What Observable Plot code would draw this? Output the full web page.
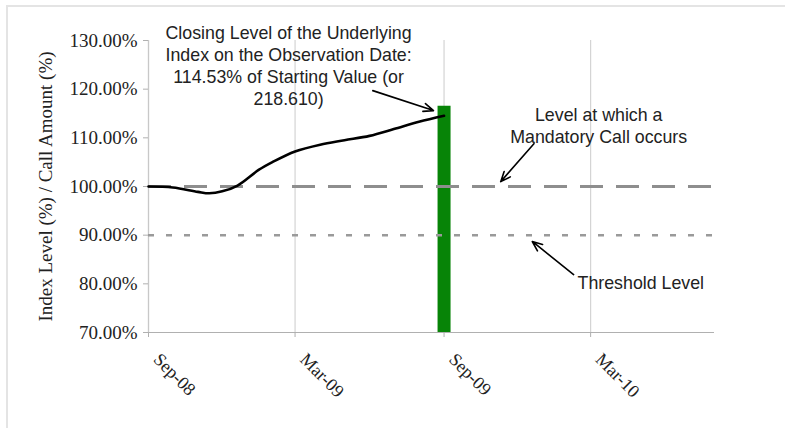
<!DOCTYPE html>
<html>
<head>
<meta charset="utf-8">
<script src="https://cdn.jsdelivr.net/npm/d3@7"></script>
<script src="https://cdn.jsdelivr.net/npm/@observablehq/plot@0.6"></script>
<style>
  html, body { margin: 0; padding: 0; background: white; }
  #wrap { position: relative; width: 785px; height: 428px; overflow: hidden; }
  #frame { position: absolute; left: 6px; top: 5px; right: -4px; bottom: -4px;
           border-top: 2px solid #e4e4e4; border-left: 2px solid #e4e4e4; pointer-events: none; }
</style>
</head>
<body>
<div id="wrap"><div id="chart"></div><div id="frame"></div></div>
<script>
// ---- data ----
const indexDates  = ["2008-09-01","2008-10-01","2008-11-01","2008-11-15","2008-12-01","2008-12-20","2009-01-15","2009-02-01","2009-03-01","2009-04-01","2009-05-01","2009-06-01","2009-07-01","2009-08-01","2009-09-01"];
const indexValues = [100.0, 99.8, 98.9, 98.6, 99.0, 100.2, 103.4, 105.0, 107.2, 108.6, 109.5, 110.4, 111.8, 113.3, 114.53];

const callDates  = ["2009-09-01"];
const callValues = [116.5];

const callLevel = 100;      // Mandatory call level
const thresholdLevel = 90;  // Threshold level

const xTickDates  = ["2008-09-01","2009-03-01","2009-09-01","2010-03-01"];
const xTickLabels = ["Sep-08","Mar-09","Sep-09","Mar-10"];
const yTicks = [70, 80, 90, 100, 110, 120, 130];
const xDomain = ["2008-09-01","2010-08-01"];
const yDomain = [70, 130];

const yLabel = "Index Level (%) / Call Amount (%)";

const annoTexts = [
  "Closing Level of the Underlying\nIndex on the Observation Date:\n114.53% of Starting Value (or\n218.610)",
  "Level at which a\nMandatory Call occurs",
  "Threshold Level"
];
const annoDates  = ["2009-02-21", "2010-03-11", "2010-05-02"];
const annoValues = [125.0, 112.6, 80.3];

const arrowFromDates  = ["2009-06-05", "2009-12-21", "2010-02-08"];
const arrowFromValues = [119.7, 108.8, 81.9];
const arrowToDates    = ["2009-08-19", "2009-11-10", "2009-12-19"];
const arrowToValues   = [115.6, 101.0, 88.7];

// ---- tables ----
const parse = d => new Date(d + "T00:00:00Z");
const indexData = indexDates.map((d, i) => ({date: parse(d), value: indexValues[i]}));
const callData = callDates.map((d, i) => ({date: parse(d), value: callValues[i]}));
const tickDates = xTickDates.map(parse);
const tickLabelOf = new Map(xTickDates.map((d, i) => [parse(d).getTime(), xTickLabels[i]]));
const annoData = annoTexts.map((t, i) => ({text: t, date: parse(annoDates[i]), value: annoValues[i]}));
const arrowData = arrowFromDates.map((d, i) => ({
  x1: parse(d), y1: arrowFromValues[i], x2: parse(arrowToDates[i]), y2: arrowToValues[i]
}));

const chart = Plot.plot({
  width: 785,
  height: 428,
  marginLeft: 148,
  marginRight: 71,
  marginTop: 40,
  marginBottom: 96,
  x: {type: "utc", domain: xDomain.map(parse)},
  y: {domain: yDomain},
  style: {fontFamily: "'Liberation Serif', 'Times New Roman', serif", background: "white", color: "black"},
  marks: [
    Plot.gridX(tickDates, {stroke: "#d4d4d4", strokeOpacity: 1, strokeWidth: 1.2}),
    Plot.ruleY([yDomain[0]], {stroke: "#b0b0b0", strokeWidth: 1.2}),
    Plot.ruleX([parse(xDomain[0])], {stroke: "#c8c8c8", strokeWidth: 1.2}),
    Plot.axisY({
      ticks: yTicks,
      tickFormat: d => d.toFixed(2) + "%",
      tickSize: 5,
      tickPadding: 6,
      fontSize: 19,
      stroke: "#b0b0b0",
      fill: "#222",
      label: yLabel,
      labelAnchor: "center",
      labelArrow: "none",
      labelOffset: 110
    }),
    // tick marks only
    Plot.axisX({
      ticks: tickDates,
      tickFormat: () => "",
      tickSize: 5,
      stroke: "#b0b0b0",
      label: null
    }),
    // rotated tick labels
    Plot.axisX({
      ticks: tickDates,
      tickFormat: d => tickLabelOf.get(d.getTime()),
      tickRotate: 45,
      tickSize: 0,
      tickPadding: 24,
      dx: 8,
      fontSize: 18,
      fill: "#222",
      label: null
    }),
    Plot.ruleX(callData, {x: "date", y1: () => yDomain[0], y2: "value", stroke: "#078407", strokeWidth: 13}),
    Plot.ruleY([callLevel], {stroke: "#8e8e8e", strokeWidth: 3, strokeDasharray: "23,13"}),
    Plot.ruleY([thresholdLevel], {stroke: "#9a9a9a", strokeWidth: 2.5, strokeDasharray: "6,12"}),
    Plot.line(indexData, {x: "date", y: "value", stroke: "black", strokeWidth: 2.6, curve: "catmull-rom"}),
    Plot.arrow(arrowData, {x1: "x1", y1: "y1", x2: "x2", y2: "y2", stroke: "black", strokeWidth: 1.6, headLength: 10, headAngle: 45}),
    Plot.text(annoData, {
      x: "date", y: "value", text: "text",
      fontFamily: "'Liberation Sans', Arial, sans-serif",
      fontSize: 17.8, lineHeight: 1.24, fill: "#222", textAnchor: "middle"
    })
  ]
});
document.getElementById("chart").appendChild(chart);
</script>
</body>
</html>
